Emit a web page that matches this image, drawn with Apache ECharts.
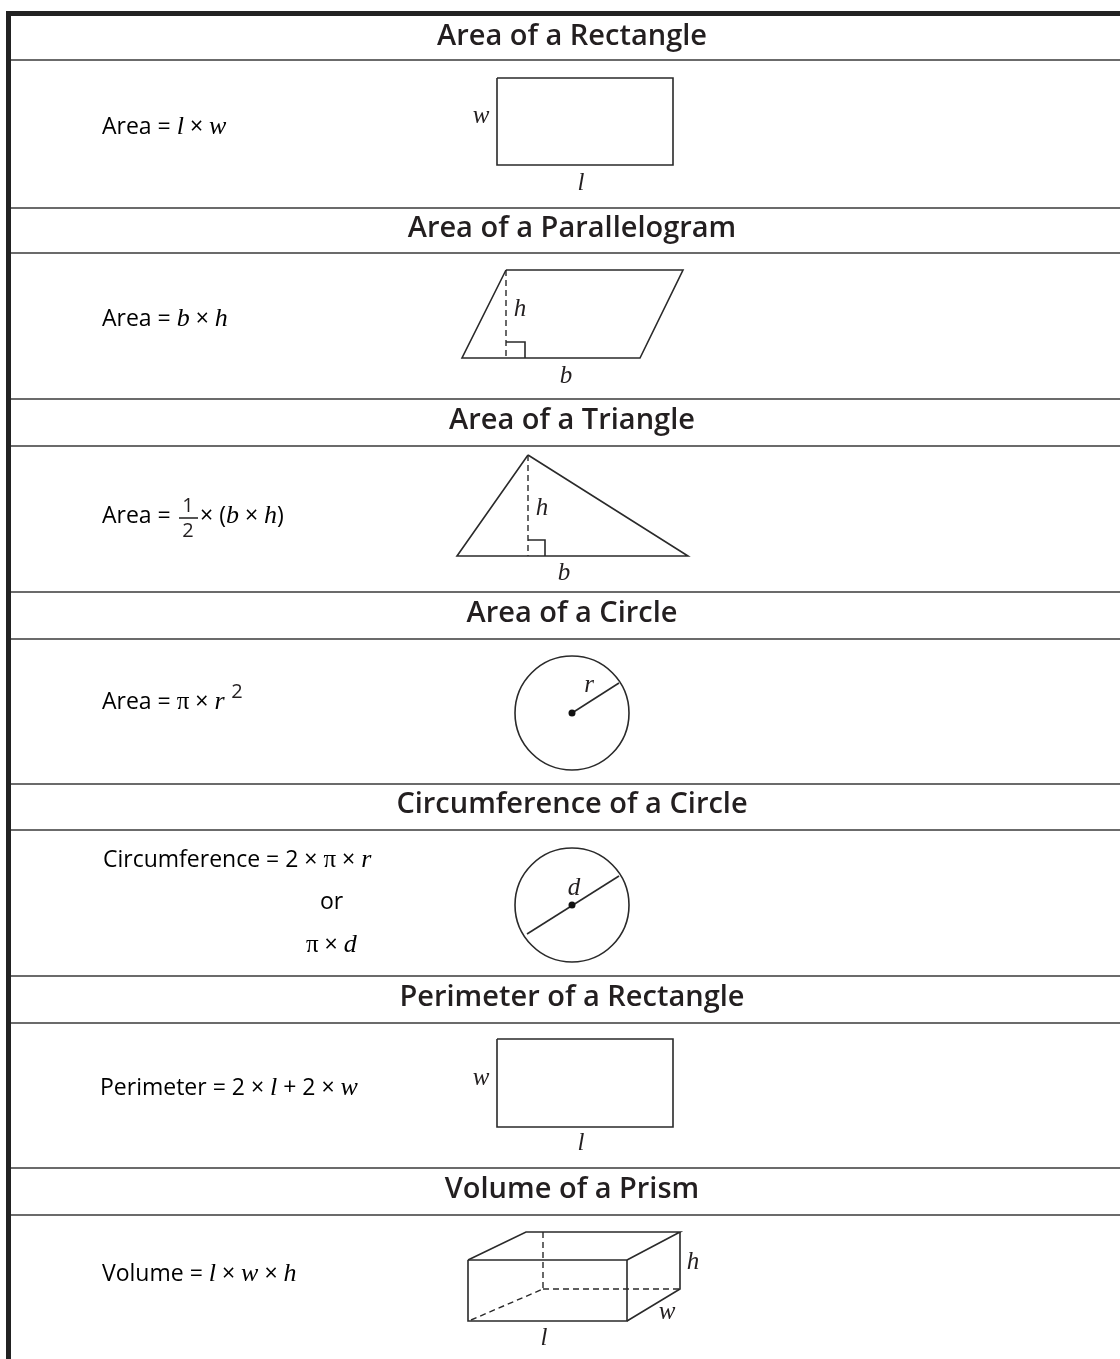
<!DOCTYPE html>
<html>
<head>
<meta charset="utf-8">
<script src="https://cdn.jsdelivr.net/npm/echarts@6/dist/echarts.min.js"></script>
<style>
html, body { margin: 0; padding: 0; background: #fff; }
#sheet { width: 1120px; height: 1359px; }
</style>
</head>
<body>
<div id="sheet"></div>
<script>
// page units: 1 unit = 1 px, y grows downward
const sectionTitles = ['Area of a Rectangle', 'Area of a Parallelogram', 'Area of a Triangle',
  'Area of a Circle', 'Circumference of a Circle', 'Perimeter of a Rectangle', 'Volume of a Prism'];
const titleY = [37, 229, 421, 614, 805, 998, 1190];
const ruleY = [60, 208, 253, 399, 446, 592, 639, 784, 830, 976, 1023, 1168, 1215];

// formula lines (rich text) and where they start
const formulas = [
  '{t|Area = }{v|l}{t| × }{v|w}',
  '{t|Area = }{v|b}{t| × }{v|h}',
  '{t|Area =}',
  '{t|× (}{v|b}{t| × }{v|h}{t|)}',
  '{t|Area = }{p|π}{t| × }{v|r}',
  '{t|Circumference = 2 × }{p|π}{t| × }{v|r}',
  '{t|or}',
  '{p|π}{t| × }{v|d}',
  '{t|Perimeter = 2 × }{v|l}{t| + 2 × }{v|w}',
  '{t|Volume = }{v|l}{t| × }{v|w}{t| × }{v|h}'
];
const formulaPos = [[102, 127], [102, 319], [102, 516], [200, 516], [102, 702],
  [103, 860], [320, 902], [306, 945], [100, 1088], [102, 1274]];

// small numbers: fraction 1/2 and the square of r
const smallNums = ['1', '2', '2'];
const smallPos = [[188, 506], [188, 531], [237, 692]];

// letters on the figures
const figLabels = ['w', 'l', 'h', 'b', 'h', 'b', 'r', 'd', 'w', 'l', 'h', 'w', 'l'];
const figLabelPos = [[481, 116], [581, 183], [520, 309], [566, 376], [542, 508], [564, 573],
  [589, 685], [574, 888], [481, 1078], [581, 1143], [693, 1262], [667, 1312], [544, 1338]];

// solid outlines of the figures
const solidPaths = [
  [[497, 78], [673, 78], [673, 165], [497, 165], [497, 78]],
  [[506, 270], [683, 270], [640, 358], [462, 358], [506, 270]],
  [[506, 342], [525, 342], [525, 358]],
  [[528, 455], [688, 556], [457, 556], [528, 455]],
  [[528, 540], [545, 540], [545, 556]],
  [[572, 713], [619, 683]],
  [[527, 934], [619, 876]],
  [[497, 1039], [673, 1039], [673, 1127], [497, 1127], [497, 1039]],
  [[468, 1260], [627, 1260], [627, 1321], [468, 1321], [468, 1260]],
  [[468, 1260], [526, 1232], [680, 1232], [627, 1260]],
  [[680, 1232], [680, 1289], [627, 1321]],
  [[179, 518], [198, 518]]
];
// hidden edges / heights
const dashedPaths = [
  [[506, 270], [506, 358]],
  [[528, 455], [528, 556]],
  [[543, 1232], [543, 1289]],
  [[543, 1289], [680, 1289]],
  [[471, 1320], [543, 1289]]
];
const circleCenters = [[572, 713], [572, 905]];
const circleRadius = [57, 57];

// table frame
const frameLines = [
  [[8.5, 11], [8.5, 1359]],
  [[6, 13.5], [1120, 13.5]]
];

const ink = '#231f20';
const richStyles = {
  t: { fontFamily: 'Open Sans', fontSize: 23, color: ink },
  v: { fontFamily: 'Liberation Serif', fontStyle: 'italic', fontSize: 26, color: ink },
  p: { fontFamily: 'Liberation Serif', fontSize: 25, color: ink }
};

let chart = echarts.init(document.getElementById('sheet'), null, { renderer: 'canvas' });

function idx(arr) { return arr.map(function (_, i) { return [i]; }); }

function pathItem(list, dashed, width, color) {
  return function (params, api) {
    let pts = list[params.dataIndex].map(function (p) { return api.coord(p); });
    return {
      type: 'polyline',
      shape: { points: pts },
      style: { stroke: color, lineWidth: width, fill: null, lineDash: dashed ? [6, 4] : null }
    };
  };
}

let option = {
  animation: false,
  grid: { left: 0, right: 0, top: 0, bottom: 0 },
  xAxis: { type: 'value', min: 0, max: 1120, show: false },
  yAxis: { type: 'value', min: 0, max: 1359, inverse: true, show: false },
  series: [
    { // frame
      type: 'custom', silent: true, data: idx(frameLines),
      renderItem: pathItem(frameLines, false, 5, '#222')
    },
    { // row rules
      type: 'custom', silent: true, data: idx(ruleY),
      renderItem: function (params, api) {
        let y = ruleY[params.dataIndex];
        let a = api.coord([11, y]), b = api.coord([1120, y]);
        return {
          type: 'line',
          shape: { x1: a[0], y1: a[1], x2: b[0], y2: b[1] },
          style: { stroke: '#3a3a3a', lineWidth: 1.6 }
        };
      }
    },
    {
      type: 'custom', silent: true, data: idx(solidPaths),
      renderItem: pathItem(solidPaths, false, 1.6, '#2a2a2a')
    },
    {
      type: 'custom', silent: true, data: idx(dashedPaths),
      renderItem: pathItem(dashedPaths, true, 1.4, '#2a2a2a')
    },
    { // circles with centre dots
      type: 'custom', silent: true, data: idx(circleCenters),
      renderItem: function (params, api) {
        let c = api.coord(circleCenters[params.dataIndex]);
        let r = api.size([circleRadius[params.dataIndex], 0])[0];
        return {
          type: 'group',
          children: [
            { type: 'circle', shape: { cx: c[0], cy: c[1], r: r }, style: { fill: null, stroke: '#2a2a2a', lineWidth: 1.6 } },
            { type: 'circle', shape: { cx: c[0], cy: c[1], r: 3.5 }, style: { fill: '#111' } }
          ]
        };
      }
    },
    { // section titles
      type: 'custom', silent: true, data: idx(sectionTitles),
      renderItem: function (params, api) {
        let p = api.coord([572, titleY[params.dataIndex]]);
        return {
          type: 'text', x: p[0], y: p[1],
          style: {
            text: sectionTitles[params.dataIndex], fill: ink,
            font: '600 29px "Open Sans"', align: 'center', verticalAlign: 'middle'
          }
        };
      }
    },
    { // formulas
      type: 'custom', silent: true, data: idx(formulas),
      renderItem: function (params, api) {
        let p = api.coord(formulaPos[params.dataIndex]);
        return {
          type: 'text', x: p[0], y: p[1],
          style: { text: formulas[params.dataIndex], rich: richStyles, align: 'left', verticalAlign: 'middle' }
        };
      }
    },
    { // 1/2 and exponent
      type: 'custom', silent: true, data: idx(smallNums),
      renderItem: function (params, api) {
        let p = api.coord(smallPos[params.dataIndex]);
        return {
          type: 'text', x: p[0], y: p[1],
          style: {
            text: smallNums[params.dataIndex], fill: ink,
            font: '20px "Open Sans"', align: 'center', verticalAlign: 'middle'
          }
        };
      }
    },
    { // letters on figures
      type: 'custom', silent: true, data: idx(figLabels),
      renderItem: function (params, api) {
        let p = api.coord(figLabelPos[params.dataIndex]);
        return {
          type: 'text', x: p[0], y: p[1],
          style: {
            text: figLabels[params.dataIndex], fill: ink,
            font: 'italic 25px "Liberation Serif"', align: 'center', verticalAlign: 'middle'
          }
        };
      }
    }
  ]
};
chart.setOption(option);
</script>
</body>
</html>
